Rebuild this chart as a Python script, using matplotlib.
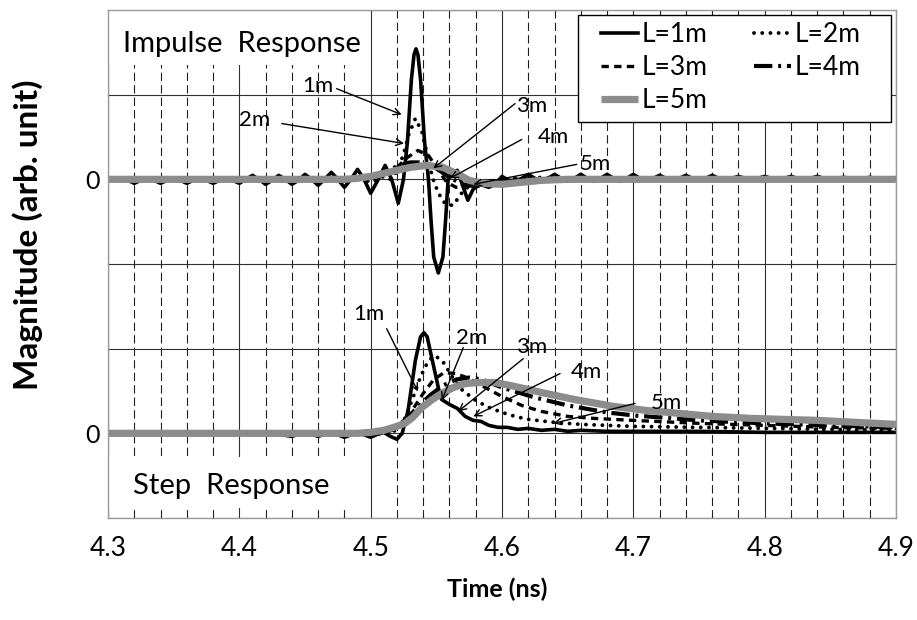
import numpy as np
import matplotlib
matplotlib.use("Agg")
import matplotlib.pyplot as plt
from matplotlib.patches import Rectangle

plt.rcParams['font.family'] = ['Lato', 'DejaVu Sans']

# cable lengths
lengths = ['L=1m', 'L=2m', 'L=3m', 'L=4m', 'L=5m']

# impulse response, time (ns) and magnitude (arb. unit, 85 = one grid step)
imp_t_1m = [4.300, 4.305, 4.310, 4.315, 4.320, 4.325, 4.330, 4.335, 4.340, 4.345,
            4.350, 4.355, 4.360, 4.365, 4.370, 4.375, 4.380, 4.385, 4.390, 4.395,
            4.400, 4.405, 4.410, 4.415, 4.420, 4.425, 4.430, 4.435, 4.440, 4.445,
            4.450, 4.455, 4.460, 4.465, 4.470, 4.475, 4.480, 4.485, 4.490, 4.495,
            4.500, 4.505, 4.511, 4.516, 4.521, 4.525, 4.528, 4.531, 4.533, 4.5345,
            4.536, 4.538, 4.541, 4.544, 4.546, 4.548, 4.5515, 4.555, 4.557, 4.559,
            4.563, 4.566, 4.570, 4.574, 4.578, 4.583, 4.590, 4.595, 4.600, 4.605,
            4.610, 4.615, 4.620, 4.625, 4.630, 4.635, 4.640, 4.645, 4.650, 4.655,
            4.660, 4.665, 4.670, 4.675, 4.680, 4.685, 4.690, 4.695, 4.700, 4.705,
            4.710, 4.715, 4.720, 4.725, 4.730, 4.735, 4.740, 4.745, 4.750, 4.755,
            4.760, 4.765, 4.770, 4.775, 4.780, 4.785, 4.790, 4.795, 4.800, 4.805,
            4.810, 4.815, 4.820, 4.825, 4.830, 4.835, 4.840, 4.845, 4.850, 4.855,
            4.860, 4.865, 4.870, 4.875, 4.880, 4.885, 4.890, 4.895, 4.900]
imp_v_1m = [-2, 0, 1, -1, -4, -1, 1, -1, -4, -1,
            1, -1, -4, -1, 1, -1, -4, -1, 1, -1,
            -4, 0, 4, 0, -5, -1, 4, 0, -5, -1,
            5, 0, -6, 0, 7, 0, -8, 0, 10, 0,
            -14, -2, 14, 0, -24, 0, 38, 100, 125, 131,
            125, 100, 38, 0, -42, -78, -94, -78, -42, 0,
            8, 9, -6, -21, -10, -5, -8, -5, 3, -1,
            -3, 1, 5, 1, -2, 1, 5, 1, -2, 1,
            5, 1, -2, 1, 5, 1, -2, 1, 5, 1,
            -1, 1, 4, 1, -1, 1, 4, 1, -1, 1,
            4, 1, -1, 1, 3, 1, -1, 1, 3, 1,
            0, 1, 3, 1, 0, 1, 3, 1, 0, 1,
            2, 1, 0, 1, 2, 1, 0, 1, 1]
imp_t_2m = [4.300, 4.440, 4.460, 4.470, 4.480, 4.490, 4.500, 4.510, 4.515, 4.520,
            4.525, 4.529, 4.534, 4.539, 4.543, 4.547, 4.551, 4.555, 4.559, 4.563,
            4.567, 4.572, 4.577, 4.583, 4.590, 4.600, 4.620, 4.660, 4.900]
imp_v_2m = [0, 0, -1, 2, -2, 3, -3, 3, 0, 8,
            25, 45, 61, 48, 25, 2, -12, -22, -26, -26,
            -18, -9, -7, -6, -3, 0, 2, 1, 0]
imp_t_3m = [4.300, 4.480, 4.500, 4.510, 4.520, 4.528, 4.536, 4.544, 4.551, 4.558,
            4.565, 4.572, 4.580, 4.590, 4.600, 4.900]
imp_v_3m = [0, 0, 1, 4, 12, 22, 29, 24, 10, -3,
            -8, -8, -5, -2, 0, 0]
imp_t_4m = [4.300, 4.490, 4.500, 4.510, 4.520, 4.530, 4.540, 4.550, 4.560, 4.570,
            4.580, 4.590, 4.600, 4.620, 4.900]
imp_v_4m = [0, 0, 2, 7, 13, 17, 17, 11, 2, -5,
            -7, -5, -2, 0, 0]
imp_t_5m = [4.300, 4.480, 4.490, 4.500, 4.510, 4.520, 4.530, 4.543, 4.555, 4.565,
            4.575, 4.585, 4.600, 4.615, 4.630, 4.650, 4.900]
imp_v_5m = [0, 0, 1, 3, 6, 9, 12, 14, 12, 6,
            -1, -4, -5, -3, -1, 0, 0]

# step response
step_t_1m = [4.300, 4.320, 4.340, 4.360, 4.380, 4.400, 4.420, 4.440, 4.450, 4.460,
             4.470, 4.480, 4.490, 4.500, 4.505, 4.510, 4.515, 4.520, 4.524, 4.5285,
             4.534, 4.538, 4.5406, 4.543, 4.547, 4.552, 4.554, 4.560, 4.566, 4.572,
             4.578, 4.584, 4.590, 4.597, 4.604, 4.612, 4.620, 4.630, 4.640, 4.650,
             4.660, 4.680, 4.700, 4.750, 4.800, 4.900]
step_v_1m = [0, -1, 1, -1, 1, -1, 1, -3, 1, -3,
             1, -4, 1, -4, -1, 1, -3, -6, 0, 23,
             73, 97, 101, 97, 73, 43, 34, 29, 25, 17,
             13, 12, 8, 6, 6, 4, 5, 3, 4, 2,
             3, 2, 2, 2, 1, 1]
step_t_2m = [4.300, 4.500, 4.510, 4.515, 4.520, 4.526, 4.532, 4.538, 4.544, 4.549,
             4.555, 4.562, 4.570, 4.580, 4.590, 4.600, 4.610, 4.620, 4.640, 4.660,
             4.700, 4.750, 4.800, 4.850, 4.900]
step_v_2m = [0, 0, -1, 0, 4, 15, 35, 57, 73, 78,
             72, 57, 43, 33, 26, 21, 17, 14, 11, 9,
             7, 6, 5, 4, 3]
step_t_3m = [4.300, 4.510, 4.520, 4.530, 4.540, 4.548, 4.556, 4.565, 4.575, 4.590,
             4.600, 4.615, 4.630, 4.650, 4.670, 4.700, 4.750, 4.800, 4.850, 4.900]
step_v_3m = [0, 0, 5, 20, 40, 54, 61, 60, 55, 44,
             37, 28, 22, 17, 15, 13, 10, 8, 6, 5]
step_t_4m = [4.300, 4.505, 4.515, 4.525, 4.535, 4.545, 4.555, 4.565, 4.575, 4.585,
             4.600, 4.625, 4.650, 4.680, 4.700, 4.750, 4.800, 4.850, 4.900]
step_v_4m = [0, 0, 3, 12, 25, 38, 48, 54, 56, 54,
             46, 36, 28, 21, 18, 13, 10, 8, 6]
step_t_5m = [4.300, 4.490, 4.500, 4.510, 4.520, 4.526, 4.532, 4.539, 4.547, 4.554,
             4.563, 4.572, 4.582, 4.595, 4.610, 4.630, 4.655, 4.685, 4.710, 4.735,
             4.760, 4.790, 4.840, 4.900]
step_v_5m = [0, 0, 1, 3, 7, 10, 16, 26, 34, 40,
             46, 50, 51, 51, 47, 41, 34, 27, 23, 20,
             17, 15, 13, 9]

imp_t = [imp_t_1m, imp_t_2m, imp_t_3m, imp_t_4m, imp_t_5m]
imp_v = [imp_v_1m, imp_v_2m, imp_v_3m, imp_v_4m, imp_v_5m]
step_t = [step_t_1m, step_t_2m, step_t_3m, step_t_4m, step_t_5m]
step_v = [step_v_1m, step_v_2m, step_v_3m, step_v_4m, step_v_5m]

# curve labels: (text, text pos, arrow start, arrow tip)
imp_notes = [('1m', (4.4595, 434), (4.4741, 431), (4.5236, 405)),
             ('2m', (4.4119, 400), (4.4323, 396), (4.5254, 376)),
             ('3m', (4.6228, 414), (4.6099, 416), (4.5477, 351)),
             ('4m', (4.6388, 382), (4.6150, 380), (4.5604, 341)),
             ('5m', (4.6708, 355), (4.6569, 355), (4.5782, 335))]
step_notes = [('1m', (4.4987, 205), (4.5122, 190), (4.5360, 127)),
              ('2m', (4.5768, 181), (4.5705, 171), (4.5541, 118)),
              ('3m', (4.6225, 172), (4.6162, 160), (4.5667, 107)),
              ('4m', (4.6640, 147), (4.6442, 145), (4.5782, 102)),
              ('5m', (4.7253, 115), (4.7013, 115), (4.6391, 95))]

x_ticks = [4.3, 4.4, 4.5, 4.6, 4.7, 4.8, 4.9]
y_ticks = [0, 85, 170, 255, 340, 425, 510]
y_ticklabels = ['', '0', '', '', '0', '', '']
imp_zero = 340
step_zero = 85

styles = [dict(color='k', lw=2.6, ls='-', solid_joinstyle='round'),
          dict(color='k', lw=2.8, ls=(0, (0.01, 2.1)), dash_capstyle='round'),
          dict(color='k', lw=2.4, ls=(0, (2.2, 1.6))),
          dict(color='k', lw=3.0, ls=(0, (4.4, 1.4, 0.7, 1.4))),
          dict(color='#8c8c8c', lw=5.2, ls='-', solid_capstyle='butt',
               solid_joinstyle='round')]

fig = plt.figure(figsize=(9.17, 6.2), dpi=100)
ax = fig.add_axes([108 / 917, 102 / 620, 788 / 917, 508 / 620])
ax.set_axisbelow(True)

handles = []
for i in range(5):
    h, = ax.plot(imp_t[i], np.array(imp_v[i]) + imp_zero, label=lengths[i],
                 zorder=2 + i * 0.1, **styles[i])
    ax.plot(step_t[i], np.array(step_v[i]) + step_zero, zorder=2 + i * 0.1, **styles[i])
    handles.append(h)

for txt, pos, start, tip in imp_notes + step_notes:
    ax.text(pos[0], pos[1], txt, fontsize=16, ha='center', va='center', zorder=4)
    ax.annotate('', xy=tip, xytext=start, zorder=4,
                arrowprops=dict(arrowstyle='->', color='k', lw=1.0,
                                shrinkA=0, shrinkB=0, mutation_scale=12))

# white boxes behind the panel titles
ax.add_patch(Rectangle((0, 0.892), 0.3325, 0.108, transform=ax.transAxes,
                       fc='white', ec='none', zorder=1))
ax.add_patch(Rectangle((0, 0.0197), 0.3325, 0.1003, transform=ax.transAxes,
                       fc='white', ec='none', zorder=1))
ax.text(0.019, 0.933, 'Impulse  Response', transform=ax.transAxes,
        fontsize=21, ha='left', va='center', zorder=4)
ax.text(0.032, 0.063, 'Step  Response', transform=ax.transAxes,
        fontsize=21, ha='left', va='center', zorder=4)

ax.set_xlim(4.3, 4.9)
ax.set_ylim(0, 510)
ax.set_xticks(x_ticks)
ax.set_xticklabels([f'{x:.1f}' for x in x_ticks])
ax.set_xticks(np.arange(4.3, 4.9001, 0.02), minor=True)
ax.set_yticks(y_ticks)
ax.set_yticklabels(y_ticklabels)
ax.tick_params(which='both', length=0)
ax.tick_params(axis='x', labelsize=19, pad=13)
ax.tick_params(axis='y', labelsize=18, pad=6)

ax.grid(which='major', axis='both', color='#303030', lw=0.8, ls='-')
ax.grid(which='minor', axis='x', color='#202020', lw=0.8, ls=(0, (7.5, 3.75)))
for s in ax.spines.values():
    s.set_color('#9a9a9a')
    s.set_linewidth(1.0)

ax.set_xlabel('Time (ns)', fontsize=18, fontweight='bold')
ax.xaxis.set_label_coords(0.494, -0.118)
ax.set_ylabel('Magnitude (arb. unit)', fontsize=24, fontweight='bold')
ax.yaxis.set_label_coords(-0.082, 0.557)

# legend frame drawn separately for wider side margins
ax.add_patch(Rectangle((0.5964, 0.7795), 0.3972, 0.2106, transform=ax.transAxes,
                       fc='white', ec='k', lw=1.0, zorder=4.9))
order = [0, 2, 4, 1, 3]
leg = ax.legend([handles[i] for i in order], [lengths[i] for i in order],
                ncol=2, loc='upper left', bbox_to_anchor=(0.6256, 0.9764),
                borderaxespad=0, borderpad=0, fontsize=19, frameon=False,
                handlelength=1.4, handletextpad=0.15,
                columnspacing=1.75, labelspacing=0.3)
leg.set_zorder(5)

fig.savefig('out.png', dpi=100)
